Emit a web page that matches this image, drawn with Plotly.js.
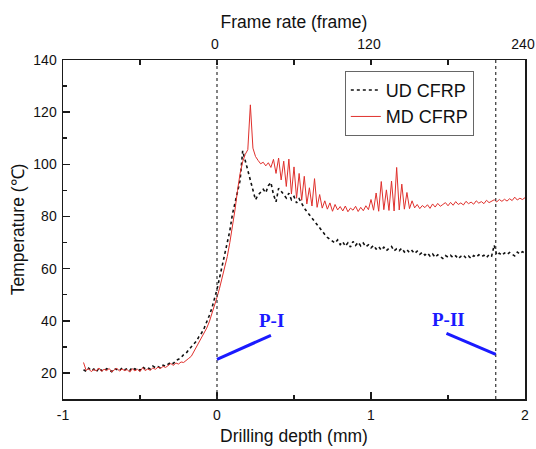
<!DOCTYPE html>
<html>
<head>
<meta charset="utf-8">
<script src="https://cdn.plot.ly/plotly-3.0.1.min.js"></script>
<style>
  html, body { margin: 0; padding: 0; background: #fff; }
  #chart { width: 536px; height: 449px; }
</style>
</head>
<body>
<div id="chart"></div>
<script>
// Temperature at the drill exit, sampled every 2nd camera frame.
// Frame 0 corresponds to a drilling depth of 0 mm; 120 frames = 1 mm.
const FIRST_FRAME = -104;
const FRAME_STEP = 2;

const seriesNames = ['UD CFRP', 'MD CFRP'];

// Unidirectional laminate (deg C)
const udCFRP = [
  21.2, 20.6, 21.8, 20.9, 21.5, 20.4, 21.9, 21.0, 20.7, 21.6,
  21.1, 20.5, 21.7, 21.3, 20.8, 21.9, 21.2, 21.6, 20.9, 22.1,
  21.4, 21.8, 21.0, 22.3, 21.6, 22.0, 21.5, 22.6, 22.0, 22.4,
  21.9, 23.0, 22.6,
  23.4, 24.1, 23.6, 24.8, 25.2, 25.9, 27.0, 27.6, 28.9, 30.0,
  31.4, 32.2, 34.0, 35.3, 37.2, 39.4, 42.0, 44.8, 48.3,
  52.0, 56.5, 61.0, 65.8, 70.2, 74.5, 80.8, 84.9, 89.6, 93.8,
  105.2, 101.5, 98.0, 94.2, 89.5, 86.4,
  88.2, 89.5, 90.4, 89.1, 91.8, 93.0, 88.4, 85.6, 90.8, 89.7,
  88.2, 87.1, 88.9, 86.4, 87.6, 85.2, 86.8, 84.9, 83.2, 81.9,
  80.6, 79.4, 78.2, 77.0, 75.8, 74.2, 73.1, 72.0, 71.2, 70.6,
  69.8, 71.0, 69.2, 70.3, 68.6, 69.9, 68.3, 70.4, 68.9, 70.1,
  68.7, 69.8, 68.4, 69.1, 68.0,
  68.9, 67.5, 68.4, 67.1, 68.2, 66.9, 67.8, 68.5, 66.8, 67.6,
  66.9, 67.8, 66.4, 67.3, 66.1, 66.9, 65.8, 66.7, 65.5, 66.3,
  65.2, 66.0, 64.8, 65.6, 64.3, 65.3, 64.6, 63.9, 65.0, 64.4,
  65.1, 64.2, 64.9, 63.8, 64.7, 65.2, 64.1, 64.8, 63.9, 65.0,
  64.4, 65.3, 64.6, 65.1, 64.2, 65.4, 64.8, 69.0, 65.2, 65.9,
  65.1, 66.0, 65.4, 66.2, 65.5, 64.9, 66.3, 65.6, 66.5, 65.9
];

// Multidirectional laminate (deg C)
const mdCFRP = [
  24.0, 21.0, 21.6, 20.5, 21.3, 20.8, 21.9, 20.6, 21.4, 20.9,
  21.7, 20.4, 21.2, 21.8, 20.7, 21.5, 20.9, 21.3, 20.3, 21.6,
  20.8, 21.4, 20.5, 22.0, 20.9, 21.5, 21.0, 21.9, 21.4, 22.2,
  21.7, 22.5, 22.1,
  23.0, 23.6, 22.9, 23.8, 23.4, 24.2, 24.0, 25.0, 25.6, 26.4,
  28.2, 30.1, 31.6, 33.2, 35.0, 37.2, 39.6, 42.5, 45.8,
  49.0, 52.5, 56.2, 60.1, 64.6, 70.0, 76.0, 82.5, 90.0, 96.5,
  101.0, 103.8, 105.6, 122.8, 106.2, 103.0,
  101.5, 100.2, 100.8, 99.4, 100.6, 98.8, 101.9, 96.5, 102.4, 94.0,
  101.2, 91.5, 102.0, 88.6, 99.0, 87.0, 96.5, 86.2, 95.4, 84.8,
  91.0, 84.0, 94.5, 83.5, 88.4, 83.2, 86.0, 82.8, 85.2, 82.0,
  84.6, 82.5, 83.8, 82.1, 84.0, 81.8, 83.2, 82.4, 83.9, 81.9,
  83.5, 82.2, 84.1, 82.6, 86.5,
  82.4, 89.0, 82.0, 93.4, 82.6, 90.2, 82.3, 93.6, 82.1, 98.8,
  82.5, 92.4, 82.8, 89.2, 83.0, 86.0, 83.3, 84.6, 83.0, 84.2,
  83.4, 84.5, 83.1, 84.8, 83.6, 85.0, 83.9, 84.6, 85.3, 84.1,
  85.4, 84.3, 85.7, 84.6, 85.2, 84.4, 85.8, 84.9, 85.5, 84.7,
  86.0, 85.1, 85.7, 84.9, 86.2, 85.3, 85.9, 86.4, 85.6, 86.5,
  85.8, 86.6, 85.9, 86.8, 86.1, 87.4, 86.3, 87.0, 86.5, 87.2
];

// Depth axis (bottom) and frame axis (top) tick labels
const depthTicks = [-1, 0, 1, 2];
const depthTickText = ['-1', '0', '1', '2'];
const frameTicks = [0, 120, 240];
const temperatureTicks = [20, 40, 60, 80, 100, 120, 140];

// Drill entry / exit reference depths (mm)
const phaseDepths = [0, 1.81];
const phaseLabels = ['P-I', 'P-II'];

const FONT = 'Arial, "Liberation Sans", sans-serif';
const AXIS_COLOR = '#1a1a1a';

const traces = [
  {
    name: seriesNames[0],
    y: udCFRP,
    x0: FIRST_FRAME, dx: FRAME_STEP,
    xaxis: 'x2', yaxis: 'y',
    type: 'scatter', mode: 'lines',
    line: { color: '#111111', width: 1.6, dash: 'dot' }
  },
  {
    name: seriesNames[1],
    y: mdCFRP,
    x0: FIRST_FRAME, dx: FRAME_STEP,
    xaxis: 'x2', yaxis: 'y',
    type: 'scatter', mode: 'lines',
    line: { color: '#e0302c', width: 1.0 }
  }
];

const shapes = phaseDepths.map(d => ({
  type: 'line', xref: 'x', yref: 'paper',
  x0: d, x1: d, y0: 0, y1: 1,
  line: { color: '#333', width: 1.2, dash: 'dot' }
}));

// Blue pointers from each label to its reference line
shapes.push(
  { type: 'line', xref: 'x', yref: 'y', x0: phaseDepths[0], y0: 25.2, x1: 0.35, y1: 34.4,
    line: { color: '#1a1aff', width: 3 } },
  { type: 'line', xref: 'x', yref: 'y', x0: 1.49, y0: 35.2, x1: phaseDepths[1], y1: 27.1,
    line: { color: '#1a1aff', width: 3 } }
);

const labelFont = { family: '"Liberation Serif", "Times New Roman", serif', size: 19, color: '#1a1aff' };
const annotations = [
  { xref: 'x', yref: 'y', x: 0.357, y: 40, text: '<b>' + phaseLabels[0] + '</b>', showarrow: false, font: labelFont },
  { xref: 'x', yref: 'y', x: 1.50, y: 40.3, text: '<b>' + phaseLabels[1] + '</b>', showarrow: false, font: labelFont }
];

const commonAxis = {
  showline: true, linecolor: AXIS_COLOR, linewidth: 1.5,
  showgrid: false, zeroline: false,
  ticks: 'inside', tickcolor: AXIS_COLOR, tickwidth: 1.5,
  tickfont: { family: FONT, size: 14, color: '#111' }
};

const layout = {
  width: 536, height: 449,
  margin: { l: 63, r: 11, t: 60, b: 50 },
  paper_bgcolor: '#fff', plot_bgcolor: '#fff',
  font: { family: FONT, color: '#111' },
  showlegend: true,
  legend: {
    x: 0.61, y: 0.968, xanchor: 'left', yanchor: 'top',
    bgcolor: '#fff', bordercolor: '#666', borderwidth: 1,
    font: { family: FONT, size: 18, color: '#111' },
    tracegroupgap: 0
  },
  xaxis: Object.assign({}, commonAxis, {
    range: [-1, 2], tickvals: depthTicks, ticktext: depthTickText, ticklen: 7,
    ticklabelstandoff: 3,
    minor: { dtick: 0.5, tick0: 0, ticks: 'inside', ticklen: 4, tickcolor: AXIS_COLOR, tickwidth: 1.5 },
    title: { text: 'Drilling depth (mm)', font: { family: FONT, size: 17.5, color: '#111' }, standoff: 7 },
    automargin: false
  }),
  xaxis2: Object.assign({}, commonAxis, {
    overlaying: 'x', side: 'top', anchor: 'y',
    range: [-120, 240], tickvals: frameTicks, ticklen: 5,
    ticklabelstandoff: 4, ticklabelshift: -2, ticklabeloverflow: 'allow',
    minor: { tickvals: [-60, 60, 180], ticks: 'inside', ticklen: 5, tickcolor: AXIS_COLOR, tickwidth: 1.5 },
    title: { text: 'Frame rate (frame)', font: { family: FONT, size: 17.5, color: '#111' }, standoff: 3 },
    automargin: false
  }),
  yaxis: Object.assign({}, commonAxis, {
    range: [10, 140], tickvals: temperatureTicks, ticklen: 7, mirror: true,
    ticklabelstandoff: 2,
    minor: { dtick: 10, tick0: 0, ticks: 'inside', ticklen: 4, tickcolor: AXIS_COLOR, tickwidth: 1.5 },
    title: { text: 'Temperature (℃)', font: { family: FONT, size: 17.5, color: '#111' }, standoff: 4 },
    automargin: false
  }),
  shapes: shapes,
  annotations: annotations
};

Plotly.newPlot('chart', traces, layout, { displayModeBar: false, staticPlot: true });
</script>
</body>
</html>
